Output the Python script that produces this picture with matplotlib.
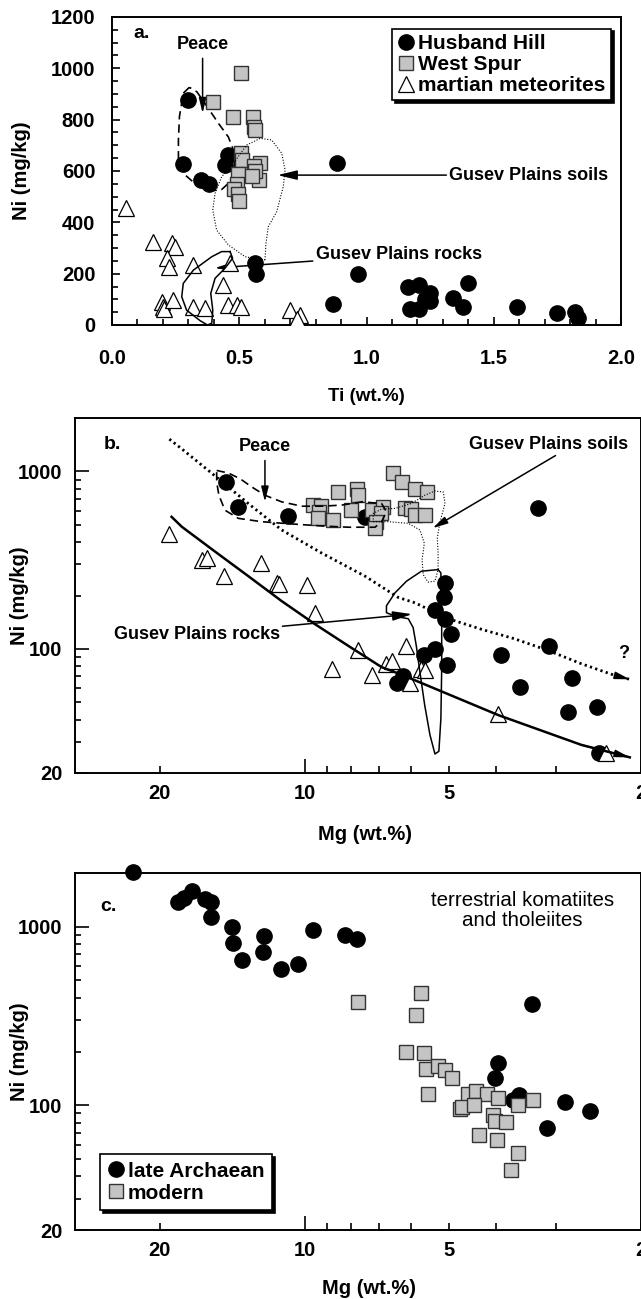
import matplotlib
matplotlib.use('Agg')
import matplotlib.pyplot as plt
from matplotlib.ticker import MultipleLocator, FixedLocator, FuncFormatter, NullFormatter, FormatStrFormatter

plt.rcParams['font.family'] = ['Liberation Sans', 'DejaVu Sans']
plt.rcParams['font.weight'] = 'bold'
plt.rcParams['axes.labelweight'] = 'bold'

# ---- panel a: Ti vs Ni
hh_ti = [0.30, 0.28, 0.35, 0.38, 0.455, 0.445, 0.885, 0.56, 0.565, 0.965, 0.87, 1.165, 1.205,
         1.17, 1.205, 1.23, 1.25, 1.25, 1.34, 1.40, 1.38, 1.59, 1.75, 1.82, 1.83]
hh_ni = [875, 626, 563, 550, 662, 625, 630, 240, 197, 197, 82, 149, 157,
         64, 63, 101, 123, 93, 106, 165, 71, 71, 45, 52, 28]
ws_ti = [0.507, 0.396, 0.475, 0.553, 0.556, 0.562, 0.506, 0.51, 0.582, 0.558, 0.496, 0.579,
         0.49, 0.48, 0.497, 0.50, 0.56, 0.55]
ws_ni = [983, 870, 812, 810, 770, 758, 672, 643, 633, 618, 590, 565, 548, 528, 512, 484, 600, 580]
mm_ti = [0.056, 0.16, 0.235, 0.248, 0.215, 0.225, 0.32, 0.464, 0.435, 0.195, 0.202, 0.205,
         0.241, 0.32, 0.365, 0.457, 0.49, 0.506, 0.699, 0.739, 0.726]
mm_ni = [454, 325, 318, 305, 260, 227, 234, 240, 156, 91, 71, 62, 97, 71, 65, 78, 78, 71, 58, 39, 22]

peace_a_ti = [0.304, 0.280, 0.265, 0.261, 0.261, 0.280, 0.333, 0.392, 0.431, 0.464, 0.483, 0.477,
              0.457, 0.418, 0.365, 0.333, 0.304]
peace_a_ni = [926, 903, 812, 721, 643, 591, 545, 523, 528, 558, 617, 682, 733, 786, 864, 909, 926]
soils_a_ti = [0.601, 0.605, 0.614, 0.647, 0.673, 0.680, 0.667, 0.627, 0.582, 0.529, 0.477, 0.431,
              0.405, 0.396, 0.411, 0.457, 0.523, 0.601]
soils_a_ni = [253, 318, 383, 441, 539, 604, 669, 721, 727, 701, 630, 578, 513, 448, 370, 312, 266, 253]
rocks_a_ti = [0.464, 0.431, 0.392, 0.320, 0.280, 0.274, 0.293, 0.346, 0.375, 0.392, 0.396, 0.388,
              0.405, 0.444, 0.474, 0.464]
rocks_a_ni = [286, 286, 266, 214, 162, 110, 58, 17, 0, 7, 58, 123, 182, 221, 260, 286]

# ---- panel b: Mg vs Ni (martian)
hb_mg = [14.6, 13.75, 10.83, 7.5, 3.27, 5.12, 5.13, 5.36, 5.11, 4.96, 5.36, 5.64, 5.07, 6.44,
         6.24, 3.90, 3.57, 3.11, 2.78, 2.84, 2.47, 2.44]
hb_ni = [870, 628, 558, 554, 625, 236, 196, 165, 148, 122, 100, 92, 81, 64,
         70, 93, 61, 104, 69, 44, 47, 26]
wb_mg = [6.54, 6.29, 5.90, 5.58, 7.80, 8.51, 7.76, 9.59, 9.25, 9.34, 8.01, 8.72, 9.37, 7.26,
         6.87, 6.94, 7.09, 7.15, 6.19, 6.02, 5.90, 5.63]
wb_ni = [979, 871, 800, 766, 800, 766, 734, 646, 637, 593, 605, 532, 544, 605,
         627, 580, 521, 479, 619, 614, 568, 568]
mb_mg = [19.1, 16.36, 15.97, 14.72, 12.3, 11.43, 11.3, 9.9, 9.53, 7.76, 8.76, 7.25, 6.77, 6.57,
         6.16, 6.04, 5.73, 5.62, 3.96, 2.36]
mb_ni = [447, 318, 324, 256, 304, 236, 232, 230, 160, 98, 77, 71, 82, 86,
         104, 64, 77, 76, 43, 26]

soil_trend_mg = [19.1, 18.0, 15.1, 13.1, 11.16, 9.22, 7.49, 6.39, 5.90, 5.03, 4.29, 3.66, 3.12, 2.66, 2.27, 2.11]
soil_trend_ni = [1520, 1340, 910, 660, 468, 347, 257, 195, 182, 148, 129, 114, 98, 82.5, 71, 67.4]
rock_trend_mg = [18.9, 18.0, 15.36, 13.09, 11.16, 9.52, 8.11, 6.92, 6.29, 3.96, 2.66, 2.11]
rock_trend_ni = [555, 488, 354, 257, 186, 138, 104, 79, 71.6, 42.4, 28.8, 24.5]

peace_b_mg = [15.23, 14.40, 13.62, 12.88, 12.09, 11.16, 10.14, 9.22, 8.38, 7.61, 6.92, 6.76, 6.92,
              7.14, 8.11, 9.22, 10.64, 12.28, 13.73, 14.64, 15.07, 15.23, 15.23]
peace_b_ni = [1013, 979, 910, 818, 734, 674, 637, 637, 646, 674, 660, 593, 521,
              485, 485, 493, 506, 521, 544, 605, 734, 871, 1013]
soils_b_mg = [7.20, 6.70, 6.09, 5.76, 5.64, 5.70, 5.67, 5.54, 5.36, 5.28, 5.28, 5.30, 5.24, 5.11,
              5.15, 5.36, 5.63, 6.0, 6.49, 6.92, 7.20, 7.20]
soils_b_ni = [521, 521, 510, 468, 394, 318, 262, 238, 241, 280, 347, 421, 510, 660,
              766, 776, 734, 660, 619, 614, 580, 521]
rocks_b_mg = [5.28, 5.72, 6.14, 6.49, 6.76, 6.76, 6.44, 6.09, 5.95, 5.86, 5.76, 5.63, 5.49, 5.36,
              5.26, 5.21, 5.19, 5.19, 5.21, 5.21, 5.28]
rocks_b_ni = [280, 274, 241, 207, 175, 160, 152, 148, 132, 104, 74, 48.3, 32.8, 25.6,
              26.5, 40.6, 77.3, 147, 226, 268, 280]

# ---- panel c: terrestrial
la_mg = [22.7, 18.32, 17.79, 17.11, 16.14, 15.67, 15.67, 14.16, 14.07, 13.48, 12.16, 12.23, 11.18,
         10.34, 9.62, 8.23, 7.79, 3.37, 3.97, 4.03, 3.59, 3.69, 2.88, 2.55, 3.14]
la_ni = [2023, 1374, 1447, 1577, 1435, 1374, 1133, 996, 813, 648, 887, 721, 582,
         621, 954, 894, 857, 368, 173, 142, 114, 107, 104, 92.6, 74.6]
mod_mg = [7.76, 5.73, 5.88, 6.16, 5.65, 5.60, 5.27, 5.10, 4.95, 5.54, 4.58, 4.40, 4.17, 3.97,
          4.76, 4.72, 4.45, 4.07, 4.03, 3.82, 3.60, 3.36, 4.34, 3.98, 3.60, 3.73]
mod_ni = [379, 427, 322, 199, 195, 160, 166, 157, 142, 116, 116, 120, 115, 110,
          95, 97.9, 100, 88.7, 81.4, 80.6, 100, 106.7, 68, 63.7, 54.1, 43.3]

mg_major = [10]
mg_minor = [20, 9, 8, 7, 6, 5, 4, 3, 2]
ni_major = [20, 100, 1000]
ni_minor = [30, 40, 50, 60, 70, 80, 90, 200, 300, 400, 500, 600, 700, 800, 900]

circ = dict(marker='o', ms=11, mfc='k', mec='k', ls='none')
sq = dict(marker='s', ms=10, mfc='#c4c4c4', mec='#333333', mew=1.0, ls='none')
tri = dict(marker='^', ms=11, mfc='white', mec='k', mew=0.9, ls='none')
arr = dict(arrowstyle='-|>,head_length=0.9,head_width=0.22', color='k', lw=1.1,
           shrinkA=0, shrinkB=0)

fig = plt.figure(figsize=(6.41, 12.99), dpi=100)
ax_a = fig.add_axes([112/641, 1-325/1299, 509/641, 308/1299])
ax_b = fig.add_axes([75/641, 1-773/1299, 566/641, 355/1299])
ax_c = fig.add_axes([75/641, 1-1230/1299, 566/641, 357/1299])

for ax in (ax_a, ax_b, ax_c):
    for s in ax.spines.values():
        s.set_linewidth(1.4)
    ax.tick_params(which='both', direction='in', top=False, right=False, width=1.2,
                   labelsize=14.5)

# panel a
ax_a.plot(hh_ti, hh_ni, label='Husband Hill', zorder=3, **circ)
ax_a.plot(ws_ti, ws_ni, label='West Spur', zorder=4, **sq)
ax_a.plot(mm_ti, mm_ni, label='martian meteorites', zorder=5, **tri)
ax_a.plot(peace_a_ti, peace_a_ni, color='k', lw=1.2, ls=(0, (5, 3)), zorder=2)
ax_a.plot(soils_a_ti, soils_a_ni, color='k', lw=0.8, ls=(0, (1, 1.5)), zorder=6)
ax_a.plot(rocks_a_ti, rocks_a_ni, color='k', lw=1.1, zorder=6)
ax_a.set_xlim(0, 2)
ax_a.set_ylim(0, 1200)
ax_a.xaxis.set_major_locator(MultipleLocator(0.5))
ax_a.xaxis.set_minor_locator(MultipleLocator(0.1))
ax_a.xaxis.set_major_formatter(FormatStrFormatter('%.1f'))
ax_a.yaxis.set_major_locator(MultipleLocator(200))
ax_a.yaxis.set_minor_locator(MultipleLocator(50))
ax_a.tick_params(which='major', length=6)
ax_a.tick_params(which='minor', length=4)
ax_a.tick_params(axis='x', pad=17)
ax_a.tick_params(axis='y', pad=12)
ax_a.set_xlabel('Ti (wt.%)', fontsize=13.5)
ax_a.set_ylabel('Ni (mg/kg)', fontsize=14.5)
ax_a.xaxis.set_label_coords(0.5, -0.205)
ax_a.yaxis.set_label_coords(-0.16, 0.5)
ax_a.text(0.085, 1135, 'a.', fontsize=14, ha='left', va='center')
ax_a.text(0.358, 1091, 'Peace', fontsize=13, ha='center', va='center')
ax_a.annotate('', xy=(0.356, 825), xytext=(0.356, 1039), arrowprops=arr)
ax_a.annotate('Gusev Plains soils', xy=(0.651, 584), xytext=(1.95, 584), fontsize=13,
              ha='right', va='center', arrowprops=arr)
ax_a.annotate('Gusev Plains rocks', xy=(0.404, 222), xytext=(0.80, 240), fontsize=13,
              ha='left', va='bottom', arrowprops=arr)
ax_a.legend(loc='upper right', bbox_to_anchor=(0.98, 0.962), borderaxespad=0,
            fontsize=15, frameon=True, fancybox=False, edgecolor='k',
            shadow={'color': 'k', 'alpha': 1.0}, handlelength=0.8, handletextpad=0.2,
            labelspacing=0.1, borderpad=0.25).get_frame().set_linewidth(1.2)

# panel b
ax_b.set_xscale('log')
ax_b.set_yscale('log')
ax_b.plot(hb_mg, hb_ni, zorder=3, **circ)
ax_b.plot(wb_mg, wb_ni, zorder=4, **sq)
ax_b.plot(mb_mg, mb_ni, zorder=5, **tri)
ax_b.plot(soil_trend_mg, soil_trend_ni, color='k', lw=2.0, ls=(0, (0.8, 1.2)), zorder=6)
ax_b.annotate('', xy=(soil_trend_mg[-1], soil_trend_ni[-1]),
              xytext=(soil_trend_mg[-2], soil_trend_ni[-2]), arrowprops=arr, zorder=6)
ax_b.plot(rock_trend_mg, rock_trend_ni, color='k', lw=1.8, zorder=6)
ax_b.annotate('', xy=(rock_trend_mg[-1], rock_trend_ni[-1]),
              xytext=(rock_trend_mg[-2], rock_trend_ni[-2]), arrowprops=arr, zorder=6)
ax_b.plot(peace_b_mg, peace_b_ni, color='k', lw=1.2, ls=(0, (5, 3)), zorder=6)
ax_b.plot(soils_b_mg, soils_b_ni, color='k', lw=0.8, ls=(0, (1, 1.5)), zorder=6)
ax_b.plot(rocks_b_mg, rocks_b_ni, color='k', lw=1.1, zorder=6)
ax_b.text(0.051, 0.924, 'b.', transform=ax_b.transAxes, fontsize=14, ha='left', va='center')
ax_b.text(0.336, 0.919, 'Peace', transform=ax_b.transAxes, fontsize=13, ha='center', va='center')
ax_b.annotate('', xy=(12.09, 674), xytext=(12.09, 1152), arrowprops=arr)
ax_b.text(0.836, 0.924, 'Gusev Plains soils', transform=ax_b.transAxes, fontsize=13,
          ha='center', va='center')
ax_b.annotate('', xy=(5.42, 479), xytext=(3.01, 1229), arrowprops=arr)
ax_b.annotate('Gusev Plains rocks', xy=(5.98, 157), xytext=(11.27, 121), fontsize=13,
              ha='right', va='center', arrowprops=arr)
ax_b.text(2.17, 84.6, '?', fontsize=13, ha='center', va='bottom')

# panel c
ax_c.set_xscale('log')
ax_c.set_yscale('log')
ax_c.plot(la_mg, la_ni, label='late Archaean', zorder=3, clip_on=False, **circ)
ax_c.plot(mod_mg, mod_ni, label='modern', zorder=4, **sq)
ax_c.text(0.044, 0.905, 'c.', transform=ax_c.transAxes, fontsize=14, ha='left', va='center')
ax_c.text(0.79, 0.895, 'terrestrial komatiites\nand tholeiites', transform=ax_c.transAxes,
          fontsize=14.8, fontweight='normal', ha='center', va='center', linespacing=1.1)
ax_c.legend(loc='lower left', bbox_to_anchor=(0.044, 0.056), borderaxespad=0,
            fontsize=15, frameon=True, fancybox=False, edgecolor='k',
            shadow={'color': 'k', 'alpha': 1.0}, handlelength=0.8, handletextpad=0.2,
            labelspacing=0.15, borderpad=0.35).get_frame().set_linewidth(1.2)

for ax in (ax_b, ax_c):
    ax.set_xlim(30, 2)
    ax.set_ylim(20, 2000)
    ax.xaxis.set_major_locator(FixedLocator(mg_major))
    ax.xaxis.set_minor_locator(FixedLocator(mg_minor))
    ax.xaxis.set_major_formatter(FuncFormatter(lambda v, p: f'{v:g}'))
    ax.xaxis.set_minor_formatter(FuncFormatter(lambda v, p: f'{v:g}' if v in (20, 5, 2) else ''))
    ax.yaxis.set_major_locator(FixedLocator(ni_major))
    ax.yaxis.set_minor_locator(FixedLocator(ni_minor))
    ax.yaxis.set_major_formatter(FuncFormatter(lambda v, p: f'{v:g}'))
    ax.yaxis.set_minor_formatter(NullFormatter())
    ax.tick_params(axis='x', which='major', length=10, pad=8)
    ax.tick_params(axis='x', which='minor', length=5, pad=8, labelsize=14.5)
    ax.tick_params(axis='y', which='major', length=10, pad=9)
    ax.tick_params(axis='y', which='minor', length=4.5)
    ax.set_xlabel('Mg (wt.%)', fontsize=14.5)
    ax.set_ylabel('Ni (mg/kg)', fontsize=14.5)
    ax.yaxis.set_label_coords(-0.082, 0.5)
ax_b.xaxis.set_label_coords(0.513, -0.146)
ax_c.xaxis.set_label_coords(0.519, -0.137)

fig.savefig('out.png', dpi=100)
